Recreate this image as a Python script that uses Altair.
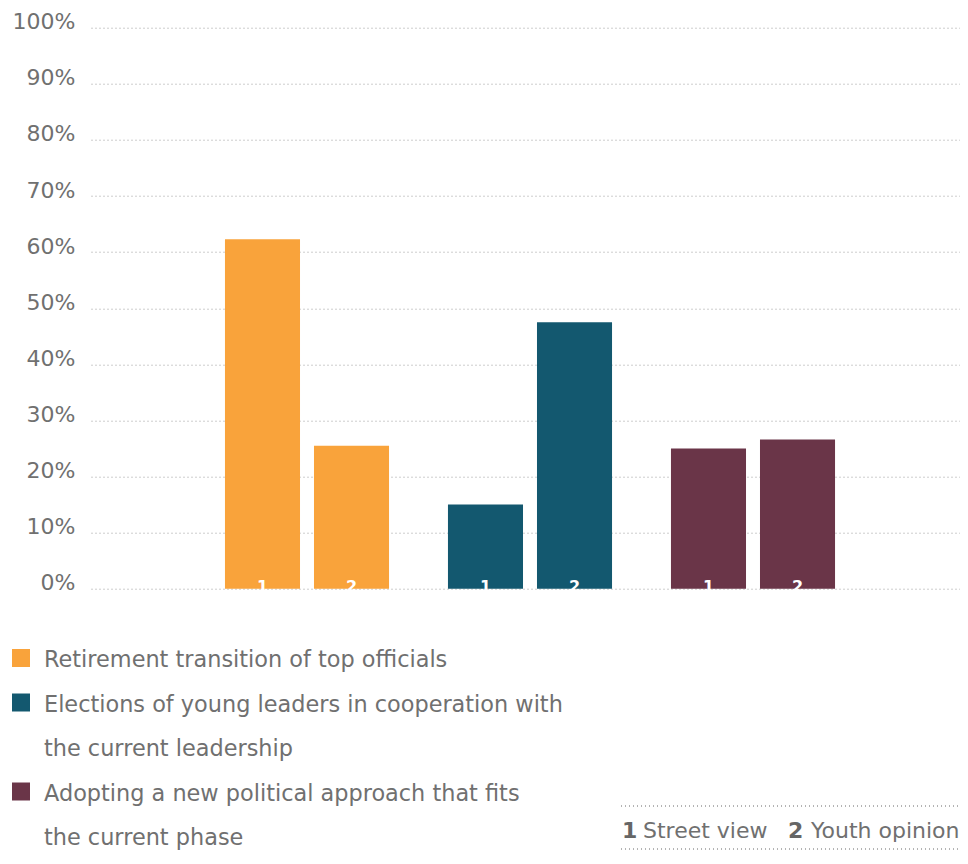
import altair as alt
import pandas as pd

# ---- data ----
topics = [
    "Retirement transition of top officials",
    "Elections of young leaders in cooperation with the current leadership",
    "Adopting a new political approach that fits the current phase",
]
legend_lines = [
    ["Retirement transition of top officials"],
    ["Elections of young leaders in cooperation with", "the current leadership"],
    ["Adopting a new political approach that fits", "the current phase"],
]
sources = ["1", "2"]
source_names = ["Street view", "Youth opinion"]
street_view = [62.3, 15.0, 25.0]
youth_opinion = [25.5, 47.5, 26.6]
colors = ["#F9A33B", "#13586F", "#6A3548"]
y_ticks = [0, 10, 20, 30, 40, 50, 60, 70, 80, 90, 100]

FONT = "DejaVu Sans"
TEXT_GRAY = "#707070"
GRID_GRAY = "#9a9a9a"

rows = []
for i, t in enumerate(topics):
    rows.append({"topic": t, "source": sources[0], "value": street_view[i]})
    rows.append({"topic": t, "source": sources[1], "value": youth_opinion[i]})
bars_df = pd.DataFrame(rows)

leg_rows = []
k = 0
for i, t in enumerate(topics):
    for j, line in enumerate(legend_lines[i]):
        leg_rows.append({"row": k, "line": line, "topic": t, "swatch": j == 0})
        k += 1
legend_df = pd.DataFrame(leg_rows)

color = alt.Color("topic:N", sort=topics,
                  scale=alt.Scale(domain=topics, range=colors), legend=None)
x_enc = alt.X("topic:N", sort=topics, axis=None,
              scale=alt.Scale(paddingInner=0, paddingOuter=0.4484, align=0.5225))
xoff = alt.XOffset("source:N", sort=sources,
                   scale=alt.Scale(paddingInner=0.157, paddingOuter=0.331))
y_scale = alt.Scale(domain=[0, 100])

base = alt.Chart(bars_df)

bars = base.mark_bar().encode(
    x=x_enc,
    xOffset=xoff,
    y=alt.Y("value:Q", scale=y_scale, title=None,
            axis=alt.Axis(values=y_ticks, labelExpr="datum.value + '%'",
                          domain=False, ticks=False, labelPadding=16,
                          labelFontSize=22, labelFont=FONT, labelColor=TEXT_GRAY,
                          labelBaseline="alphabetic", labelOffset=1,
                          labelFlush=False, labelOverlap=False,
                          grid=True, gridColor=GRID_GRAY, gridDash=[1, 3],
                          gridWidth=1)),
    color=color,
)

bar_labels = base.mark_text(color="white", font=FONT, fontWeight="bold",
                            fontSize=16, baseline="alphabetic", dy=3).encode(
    x=x_enc,
    xOffset=xoff,
    y=alt.Y(datum=0, scale=y_scale, axis=None),
    text="source:N",
)

# legend rows (square centres, relative to plot top)
row_scale = alt.Scale(domain=[0, 4], range=[630.3, 808.3])
legend_base = alt.Chart(legend_df)
legend_squares = legend_base.transform_filter("datum.swatch").mark_square(
    size=324, opacity=1).encode(
    x=alt.value(-70),
    y=alt.Y("row:Q", scale=row_scale, axis=None),
    color=color,
)
legend_text = legend_base.mark_text(font=FONT, fontSize=22.4, color=TEXT_GRAY,
                                    align="left", baseline="alphabetic", dy=9).encode(
    x=alt.value(-47),
    y=alt.Y("row:Q", scale=row_scale, axis=None),
    text="line:N",
)

key_df = pd.DataFrame({"num": sources, "name": source_names})
key_base = alt.Chart(key_df)
key_rule_top = key_base.mark_rule(color=GRID_GRAY, strokeDash=[1, 3], strokeWidth=1).encode(
    x=alt.value(530), x2=alt.value(869), y=alt.value(778.3))
key_rule_bot = key_base.mark_rule(color=GRID_GRAY, strokeDash=[1, 3], strokeWidth=1).encode(
    x=alt.value(530), x2=alt.value(869), y=alt.value(821.3))

key_parts = []
for idx, (nx, tx) in enumerate([(531, 552), (697, 720)]):
    key_parts.append(
        key_base.transform_filter(f"datum.num == '{sources[idx]}'").mark_text(
            font=FONT, fontSize=22, fontWeight="bold", color="#666666",
            align="left", baseline="alphabetic").encode(
            x=alt.value(nx), y=alt.value(810.3), text="num:N"))
    key_parts.append(
        key_base.transform_filter(f"datum.num == '{sources[idx]}'").mark_text(
            font=FONT, fontSize=22, color=TEXT_GRAY,
            align="left", baseline="alphabetic").encode(
            x=alt.value(tx), y=alt.value(810.3), text="name:N"))

chart = alt.layer(
    bars, bar_labels, legend_squares, legend_text,
    key_rule_top, key_rule_bot, *key_parts
).resolve_scale(y="independent").properties(
    width=869, height=561,
    autosize="none",
    padding={"left": 83, "top": 19.7, "right": 0, "bottom": 261.3},
    background="white",
).configure_view(stroke=None)

chart.save("out.html", embed_options={"renderer": "svg", "actions": False})
